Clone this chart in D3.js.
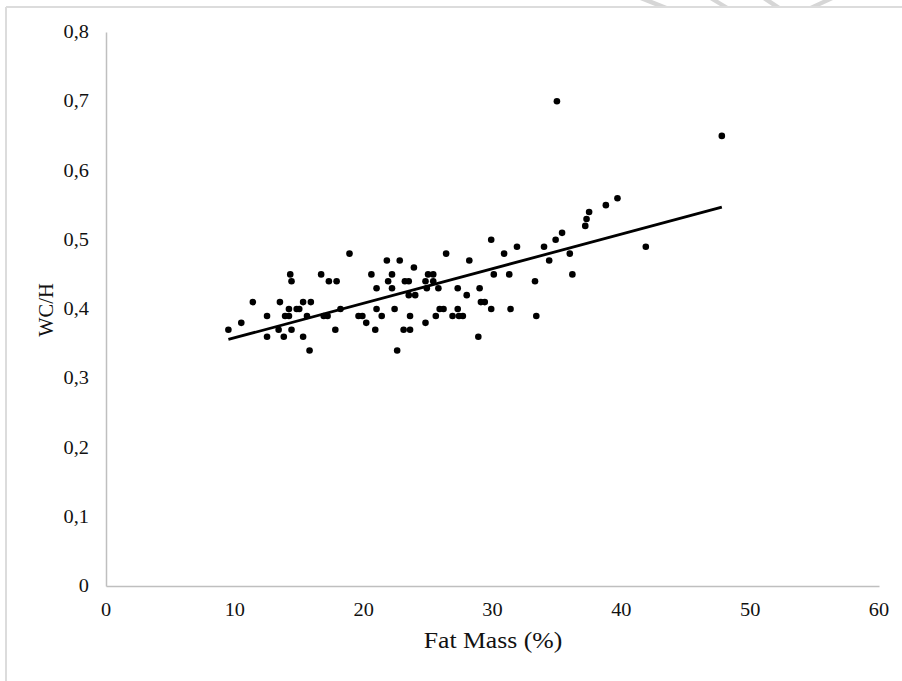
<!DOCTYPE html>
<html>
<head>
<meta charset="utf-8">
<script src="https://cdn.jsdelivr.net/npm/d3@7"></script>
<style>
  html, body { margin: 0; padding: 0; background: #fff; }
  svg { display: block; }
</style>
</head>
<body>
<svg id="chart" width="902" height="681"></svg>
<script>
// ---- data ----
const fatMass = [9.5,10.5,11.4,12.5,12.5,13.5,13.4,13.8,13.9,14.2,14.2,14.3,14.4,14.4,14.8,15.0,15.3,15.3,15.6,15.9,15.8,16.7,16.9,17.2,17.3,17.9,17.8,18.2,18.9,19.6,19.9,20.2,20.6,20.9,21.0,21.0,21.4,21.8,21.9,22.2,22.2,22.4,22.6,22.8,23.1,23.2,23.5,23.5,23.6,23.6,23.9,24.0,24.8,24.8,24.9,25.0,25.4,25.4,25.6,25.8,25.9,26.2,26.4,26.9,27.3,27.3,27.4,27.7,28.0,28.2,28.9,29.0,29.1,29.4,29.9,29.9,30.1,30.9,31.3,31.4,31.9,33.3,33.4,34.0,34.4,34.9,35.0,35.4,36.0,36.2,37.2,37.3,37.5,38.8,39.7,41.9,47.8];
const wch     = [0.37,0.38,0.41,0.39,0.36,0.41,0.37,0.36,0.39,0.40,0.39,0.45,0.44,0.37,0.40,0.40,0.41,0.36,0.39,0.41,0.34,0.45,0.39,0.39,0.44,0.44,0.37,0.40,0.48,0.39,0.39,0.38,0.45,0.37,0.40,0.43,0.39,0.47,0.44,0.45,0.43,0.40,0.34,0.47,0.37,0.44,0.42,0.44,0.39,0.37,0.46,0.42,0.38,0.44,0.43,0.45,0.45,0.44,0.39,0.43,0.40,0.40,0.48,0.39,0.43,0.40,0.39,0.39,0.42,0.47,0.36,0.43,0.41,0.41,0.50,0.40,0.45,0.48,0.45,0.40,0.49,0.44,0.39,0.49,0.47,0.50,0.70,0.51,0.48,0.45,0.52,0.53,0.54,0.55,0.56,0.49,0.65];
const trendX = [9.5, 47.8];
const trendY = [0.356, 0.547];
const xTicks = [0,10,20,30,40,50,60];
const yTicks = [0,0.1,0.2,0.3,0.4,0.5,0.6,0.7,0.8];
const xTitle = "Fat Mass (%)";
const yTitle = "WC/H";

// ---- drawing ----
const svg = d3.select("#chart");
const font = "'Liberation Serif', 'Times New Roman', serif";

// frame / decorative marks
svg.append("line").attr("x1",6).attr("y1",7).attr("x2",902).attr("y2",7)
  .attr("stroke","#dcdcdc").attr("stroke-width",2);
svg.append("line").attr("x1",6).attr("y1",7).attr("x2",6).attr("y2",681)
  .attr("stroke","#dcdcdc").attr("stroke-width",2);
[[640,667],[710,728],[763,780],[810,833]].forEach(([a,b],i)=>{
  const pts = i===0 ? [[a,0],[a+12,0],[b,6],[b-12,6]] :
              i===3 ? [[a,6],[a+10,6],[b,0],[b-10,0]] :
                      [[a,0],[a+8,0],[b,6],[b-8,6]];
  svg.append("polygon").attr("points", pts.map(p=>p.join(",")).join(" "))
    .attr("fill","#d6d6d6");
});

const x = d3.scaleLinear().domain([0,60]).range([106,879]);
const y = d3.scaleLinear().domain([0,0.8]).range([586,32]);

// axes lines
const xAxis = d3.axisBottom(x).tickValues(xTicks).tickSize(0).tickFormat(d=>d);
const gx = svg.append("g").attr("transform",`translate(0,${y(0)})`).call(xAxis);
gx.select(".domain").attr("stroke","#bfbfbf").attr("stroke-width",1.5);
gx.selectAll("text").remove();

const yAxis = d3.axisLeft(y).tickValues(yTicks).tickSize(0);
const gy = svg.append("g").attr("transform",`translate(${x(0)},0)`).call(yAxis);
gy.select(".domain").attr("stroke","#bfbfbf").attr("stroke-width",1.5);
gy.selectAll("text").remove();

// tick labels (horizontally stretched serif like the original)
const fmt = d => String(d3.format(".1f")(d)).replace(".", ",");
svg.append("g").selectAll("text").data(yTicks).join("text")
  .attr("transform", d=>`translate(89,${y(d)}) scale(1.1,1)`)
  .attr("text-anchor","end").attr("dominant-baseline","central")
  .attr("font-family",font).attr("font-size",18.5).attr("fill","#111")
  .text(d => d===0 ? "0" : fmt(d));
svg.append("g").selectAll("text").data(xTicks).join("text")
  .attr("transform", d=>`translate(${x(d)},610) scale(1.1,1)`)
  .attr("text-anchor","middle").attr("dominant-baseline","central")
  .attr("font-family",font).attr("font-size",18.5).attr("fill","#111")
  .text(d=>d);

// axis titles
svg.append("text")
  .attr("transform","translate(493,640) scale(1.12,1)")
  .attr("text-anchor","middle").attr("dominant-baseline","central")
  .attr("font-family",font).attr("font-size",23).attr("fill","#111")
  .text(xTitle);
svg.append("text")
  .attr("transform","translate(46,310) rotate(-90) scale(1.05,1.12)")
  .attr("text-anchor","middle").attr("dominant-baseline","central")
  .attr("font-family",font).attr("font-size",19.5).attr("fill","#111")
  .text(yTitle);

// trend line
svg.append("path")
  .datum(trendX.map((v,i)=>[v,trendY[i]]))
  .attr("d", d3.line().x(d=>x(d[0])).y(d=>y(d[1])))
  .attr("stroke","#000").attr("stroke-width",2.8).attr("fill","none");

// points
svg.append("g").selectAll("circle").data(fatMass.map((v,i)=>[v,wch[i]])).join("circle")
  .attr("cx", d=>x(d[0])).attr("cy", d=>y(d[1])).attr("r",3.3).attr("fill","#000");
</script>
</body>
</html>
